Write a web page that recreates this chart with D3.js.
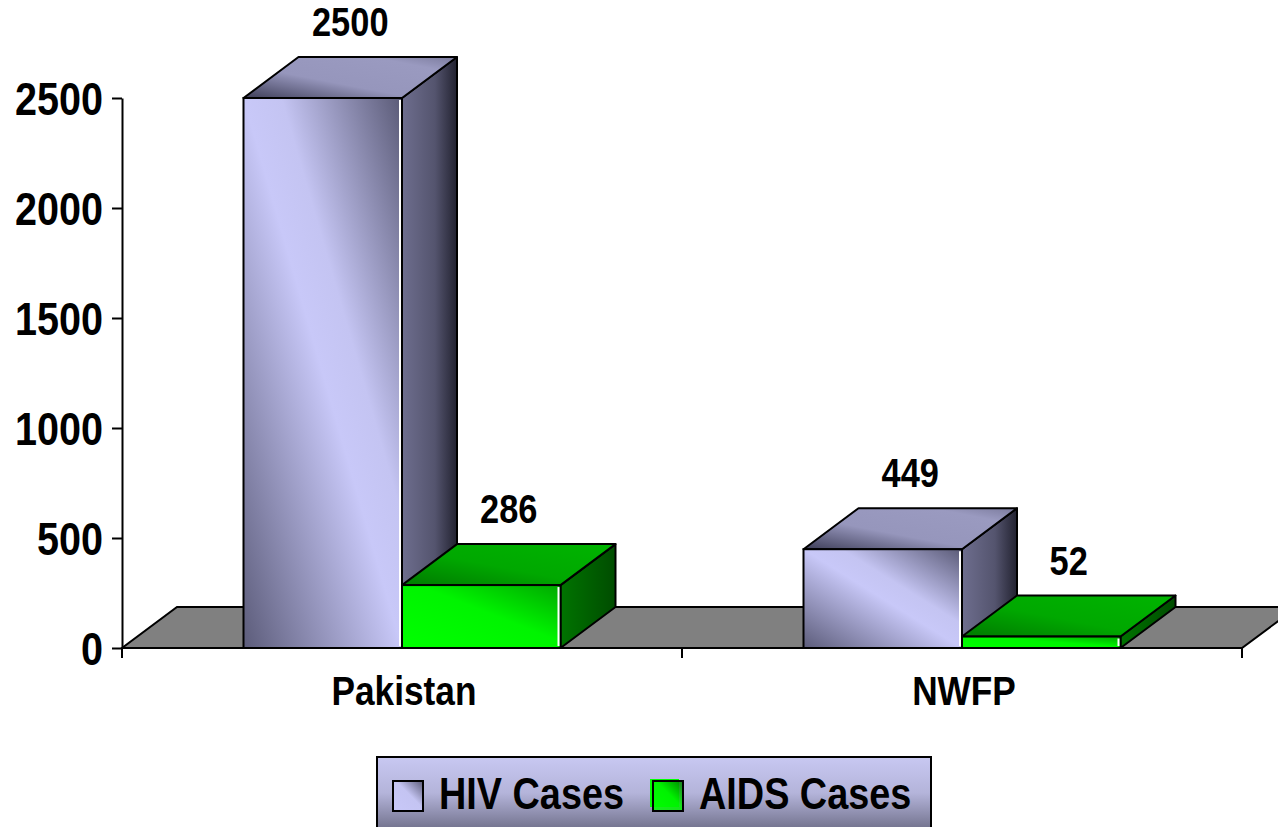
<!DOCTYPE html>
<html lang="en">
  <head>
    <meta charset="utf-8" />
    <title>HIV / AIDS Cases</title>
    <script src="https://d3js.org/d3.v7.min.js" charset="utf-8"></script>
    <style>
      body {
        margin: 0;
        background: #ffffff;
      }
      text {
        font-family: "Liberation Sans", Arial, sans-serif;
        font-weight: bold;
        fill: #000;
      }
    </style>
  </head>
  <body>
    <div id="graph-container"></div>
    <script type="text/javascript">
      const categories = ["Pakistan", "NWFP"];
      const seriesNames = ["HIV Cases", "AIDS Cases"];
      const hivValues = [2500, 449];
      const aidsValues = [286, 52];
      const yTicks = [0, 500, 1000, 1500, 2000, 2500];

      const cW = 1278,
        cH = 827,
        cLeft = 122,
        cRight = 1242,
        cZeroY = 648,
        cTopY = 98,
        cBarW = 158.5,
        cDx = 55,
        cDy = -41,
        cNarrow = 0.86; // no Arial Narrow here, so squeeze Liberation Sans

      const svg = d3
        .select("#graph-container")
        .append("svg")
        .attr("width", cW)
        .attr("height", cH);

      // narrow text placed at x,y
      const narrowAt = (sel, x, y) =>
        sel.attr(
          "transform",
          (d, i) =>
            `translate(${typeof x == "function" ? x(d, i) : x},${
              typeof y == "function" ? y(d, i) : y
            }) scale(${cNarrow},1)`
        );

      //gradients
      const defs = svg.append("defs");
      const addGrad = (id, x1, y1, x2, y2, stops) => {
        const g = defs
          .append("linearGradient")
          .attr("id", id)
          .attr("x1", x1)
          .attr("y1", y1)
          .attr("x2", x2)
          .attr("y2", y2);
        stops.forEach((s) =>
          g.append("stop").attr("offset", s[0]).attr("stop-color", s[1])
        );
      };
      addGrad("hivFront", 0, 1, 1, 0, [
        [0, "#5c5c7a"],
        [0.5, "#c8c8f8"],
        [0.62, "#c4c4f2"],
        [1, "#5a5a76"],
      ]);
      addGrad("hivSide", 0, 0, 1, 0, [
        [0, "#6e6e8e"],
        [0.6, "#54546e"],
        [1, "#222230"],
      ]);
      addGrad("hivTop", 0, 1, 1, 0, [
        [0, "#3e3e58"],
        [0.4, "#9696bc"],
        [0.8, "#9a9ac0"],
        [1, "#7a7a9c"],
      ]);
      addGrad("aidsFront", 0, 1, 1, 0, [
        [0, "#00ff00"],
        [0.55, "#00f400"],
        [1, "#00a800"],
      ]);
      addGrad("aidsSide", 0, 0, 1, 0, [
        [0, "#007400"],
        [1, "#004c00"],
      ]);
      addGrad("aidsTop", 0, 1, 1, 0, [
        [0, "#007a00"],
        [0.45, "#00a800"],
        [1, "#00b400"],
      ]);
      addGrad("legendBg", 0, 0, 0, 1, [
        [0, "#c8c8f2"],
        [0.45, "#b4b4da"],
        [0.85, "#7a7a96"],
        [1, "#64647e"],
      ]);
      addGrad("legendHiv", 0, 1, 1, 0, [
        [0, "#c8c8f8"],
        [0.55, "#c4c4f2"],
        [1, "#5c5c78"],
      ]);
      addGrad("legendAids", 0, 1, 1, 0, [
        [0, "#00ff00"],
        [0.55, "#00f000"],
        [1, "#007000"],
      ]);

      //scales
      const xScale = d3
        .scaleBand()
        .domain(categories)
        .range([cLeft, cRight]);
      const sScale = d3
        .scaleBand()
        .domain(seriesNames)
        .range([-cBarW, cBarW]);
      const yScale = d3.scaleLinear().domain([0, 2500]).range([cZeroY, cTopY]);

      //floor
      svg
        .append("polygon")
        .attr(
          "points",
          [
            [cLeft, cZeroY],
            [cRight, cZeroY],
            [cRight + cDx, cZeroY + cDy],
            [cLeft + cDx, cZeroY + cDy],
          ].join(" ")
        )
        .attr("fill", "#808080")
        .attr("stroke", "#000")
        .attr("stroke-width", 2);

      //bars
      const bars = [];
      categories.forEach((c, i) => {
        bars.push({ cat: c, series: seriesNames[0], value: hivValues[i], key: "hiv" });
        bars.push({ cat: c, series: seriesNames[1], value: aidsValues[i], key: "aids" });
      });

      const barG = svg
        .selectAll("g.bar")
        .data(bars)
        .enter()
        .append("g")
        .attr("class", "bar");

      barG.each(function (d) {
        const g = d3.select(this);
        const x0 = xScale(d.cat) + xScale.bandwidth() / 2 + sScale(d.series);
        const x1 = x0 + sScale.bandwidth();
        const yT = yScale(d.value);
        const yB = yScale(0);
        // side face
        g.append("polygon")
          .attr(
            "points",
            [
              [x1, yT],
              [x1 + cDx, yT + cDy],
              [x1 + cDx, yB + cDy],
              [x1, yB],
            ].join(" ")
          )
          .attr("fill", `url(#${d.key}Side)`)
          .attr("stroke", "#000")
          .attr("stroke-width", 2)
          .attr("stroke-linejoin", "round");
        // top face
        g.append("polygon")
          .attr(
            "points",
            [
              [x0, yT],
              [x0 + cDx, yT + cDy],
              [x1 + cDx, yT + cDy],
              [x1, yT],
            ].join(" ")
          )
          .attr("fill", `url(#${d.key}Top)`)
          .attr("stroke", "#000")
          .attr("stroke-width", 2)
          .attr("stroke-linejoin", "round");
        // front face
        g.append("rect")
          .attr("x", x0)
          .attr("y", yT)
          .attr("width", x1 - x0)
          .attr("height", yB - yT)
          .attr("fill", `url(#${d.key}Front)`)
          .attr("stroke", "#000")
          .attr("stroke-width", 2);
        g.append("line")
          .attr("x1", x1 - 2)
          .attr("x2", x1 - 2)
          .attr("y1", yT + 2)
          .attr("y2", yB - 2)
          .attr("stroke", "#fff")
          .attr("stroke-width", 2);
        // value label
        narrowAt(
          g.append("text").attr("text-anchor", "middle").attr("font-size", 40),
          (x0 + x1) / 2 + cDx / 2,
          yT + cDy - 21
        ).text(d.value);
      });

      //y axis
      const yAxis = d3
        .axisLeft(yScale)
        .tickValues(yTicks)
        .tickFormat(d3.format("d"))
        .tickSize(10)
        .tickSizeOuter(0)
        .tickPadding(9);
      const yG = svg
        .append("g")
        .attr("transform", `translate(${cLeft},0)`)
        .call(yAxis);
      yG.selectAll("path, line").attr("stroke", "#000").attr("stroke-width", 2);
      yG.selectAll("text")
        .attr("font-size", 46)
        .attr("fill", "#000")
        .attr("x", -19 / cNarrow)
        .attr("dy", "0.36em")
        .attr("transform", `scale(${cNarrow},1)`);
      yG.attr("font-family", null);
      svg
        .append("line")
        .attr("x1", cLeft)
        .attr("x2", cLeft)
        .attr("y1", cZeroY)
        .attr("y2", cZeroY + 10)
        .attr("stroke", "#000")
        .attr("stroke-width", 2);

      //x axis
      svg
        .append("line")
        .attr("x1", cLeft)
        .attr("x2", cRight)
        .attr("y1", cZeroY)
        .attr("y2", cZeroY)
        .attr("stroke", "#000")
        .attr("stroke-width", 2);
      const bandEdges = categories.map((c) => xScale(c)).concat([cRight]);
      svg
        .selectAll("line.xtick")
        .data(bandEdges)
        .enter()
        .append("line")
        .attr("class", "xtick")
        .attr("x1", (d) => d)
        .attr("x2", (d) => d)
        .attr("y1", cZeroY)
        .attr("y2", cZeroY + 10)
        .attr("stroke", "#000")
        .attr("stroke-width", 2);
      narrowAt(
        svg
          .selectAll("text.xlabel")
          .data(categories)
          .enter()
          .append("text")
          .attr("class", "xlabel")
          .attr("text-anchor", "middle")
          .attr("font-size", 41),
        (d) => xScale(d) + xScale.bandwidth() / 2 + 2,
        705
      ).text((d) => d);

      //legend
      const legend = svg.append("g").attr("id", "legend");
      legend
        .append("rect")
        .attr("x", 377)
        .attr("y", 757)
        .attr("width", 554)
        .attr("height", 80)
        .attr("fill", "url(#legendBg)")
        .attr("stroke", "#000")
        .attr("stroke-width", 2);
      const legendX = [393, 653];
      const legendItem = legend
        .selectAll("g")
        .data(seriesNames)
        .enter()
        .append("g");
      legendItem
        .filter((d, i) => i == 1)
        .append("rect")
        .attr("x", legendX[1] - 3)
        .attr("y", 779)
        .attr("width", 29)
        .attr("height", 28)
        .attr("fill", "#00ff00");
      legendItem
        .append("rect")
        .attr("x", (d, i) => legendX[i])
        .attr("y", 781)
        .attr("width", 30)
        .attr("height", 30)
        .attr("fill", (d, i) => (i == 0 ? "url(#legendHiv)" : "url(#legendAids)"))
        .attr("fill-opacity", (d, i) => (i == 0 ? 1 : 0.85))
        .attr("stroke", "#000")
        .attr("stroke-width", 2);
      narrowAt(
        legendItem.append("text").attr("font-size", 44),
        (d, i) => legendX[i] + 46,
        809
      ).text((d) => d);
    </script>
  </body>
</html>
